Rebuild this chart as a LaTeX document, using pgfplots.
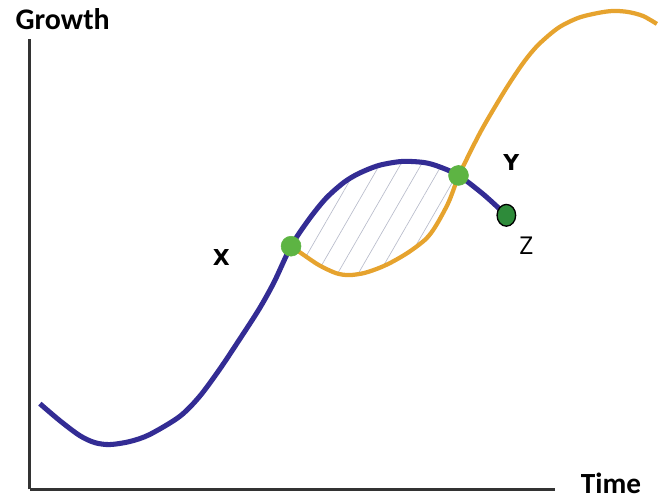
\documentclass[border=0pt]{standalone}
\usepackage{fontspec}
\usepackage{pgfplots}
\pgfplotsset{compat=1.18}
\usepgfplotslibrary{fillbetween}
\usetikzlibrary{patterns.meta}
\setmainfont{Carlito}
\newfontfamily\dvs{DejaVu Sans}
\newfontfamily\osans{Open Sans}
\definecolor{CurveBlue}{HTML}{332C94}
\definecolor{CurveOrange}{HTML}{E6A32E}
\definecolor{PointGreen}{HTML}{5DB443}
\definecolor{ZGreen}{HTML}{2E8B3A}
\definecolor{HatchGray}{HTML}{B8BCCB}

\pgfplotstableread{
x y
40 96
60 79
80 64
95 57
110 55
130 58
150 65
180 83
200 103
220 130
240 160
260 191
275 218
292 254
310 281
327 302
345 318
360 327
380 335
403 339
425 338
440 334
460 325
485 306
508 285
}\bluecurve

\pgfplotstableread{
x y
292 254
305 245
320 235
337 227
350 225
365 227
380 232
393 238
410 248
427 261
437 274
450 298
460 324
472 349
485 374
507 411
525 438
540 456
560 473
580 483
600 488
615 490
630 489
645 485
659 477
}\orangecurve

\begin{document}
\begin{tikzpicture}
\begin{axis}[
  scale only axis,
  width=395.25pt, height=339pt,
  xmin=30, xmax=557, ymin=10, ymax=462,
  axis lines=left,
  axis line style={-, line width=2.2pt, draw=black!80},
  xtick=\empty, ytick=\empty,
  clip=false,
  every node/.append style={inner sep=0pt},
]
\path (axis cs:0,0) rectangle (axis cs:659,501);

% lens between the two crossings X and Y
\addplot[name path=bluepart, draw=none, smooth,
  restrict x to domain=292:460] table {\bluecurve};
\addplot[name path=orangepart, draw=none, smooth,
  restrict x to domain=292:460] table {\orangecurve};
\addplot[pattern={Lines[angle=60, distance=13.5pt, line width=0.5pt]},
  pattern color=HatchGray]
  fill between[of=bluepart and orangepart];

\addplot[CurveOrange, line width=3.2pt, smooth] table {\orangecurve};
\addplot[CurveBlue, line width=3.8pt, smooth] table {\bluecurve};

\addplot[only marks, mark=*, mark size=7.5pt, color=PointGreen]
  coordinates {(292,254) (460,325)};
\addplot[only marks, mark=*, mark size=7pt,
  mark options={fill=ZGreen, draw=black, line width=1pt, yscale=1.17}]
  coordinates {(508,285)};

\node[anchor=base west, font=\bfseries\fontsize{22.5}{24}\selectfont]
  at (axis cs:11,471) {Growth};
\node[anchor=base west, font=\bfseries\fontsize{22}{24}\selectfont]
  at (axis cs:578,6) {Time};
\node[font=\dvs\bfseries\fontsize{16.5}{18}\selectfont]
  at (axis cs:222,243) {X};
\node[font=\dvs\bfseries\fontsize{16.5}{18}\selectfont]
  at (axis cs:513,338) {Y};
\node[font=\osans\fontsize{18.5}{20}\selectfont]
  at (axis cs:528,254) {Z};
\end{axis}
\end{tikzpicture}
\end{document}
